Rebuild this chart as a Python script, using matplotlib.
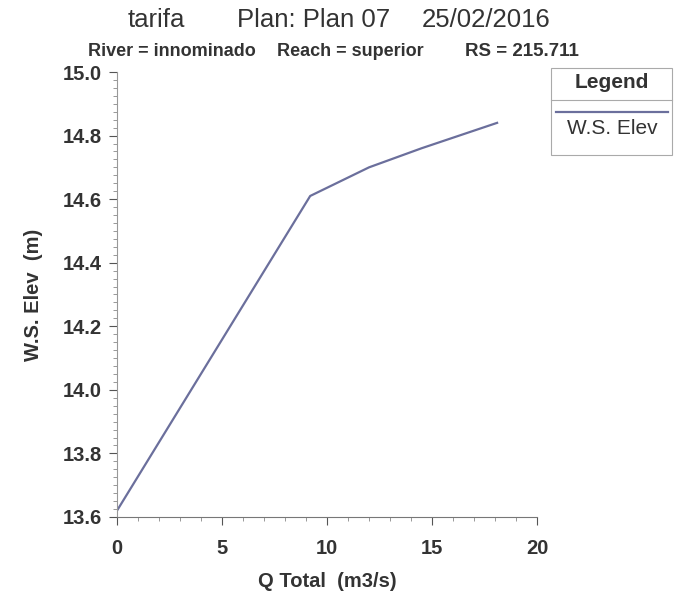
import matplotlib
matplotlib.use("Agg")
import matplotlib.pyplot as plt
from matplotlib.ticker import MultipleLocator
from matplotlib.lines import Line2D
from matplotlib.patches import Rectangle

# rating curve at RS 215.711
q_total = [0.0, 9.2, 12.0, 14.5, 18.1]
ws_elev = [13.62, 14.61, 14.70, 14.76, 14.84]

x_ticks = [0, 5, 10, 15, 20]
y_ticks = [13.6, 13.8, 14.0, 14.2, 14.4, 14.6, 14.8, 15.0]

plt.rcParams['font.family'] = ['Liberation Sans', 'DejaVu Sans']
txt = '#333333'
line_col = '#6b6f9c'

fig = plt.figure(figsize=(6.74, 6.04), dpi=100)
ax = fig.add_axes([117 / 674, 1 - 517 / 604, 420 / 674, 445 / 604])

ax.plot(q_total, ws_elev, color=line_col, lw=1.6)

ax.set_xlim(0, 20)
ax.set_ylim(13.6, 15.0)
ax.set_xticks(x_ticks)
ax.set_yticks(y_ticks)
ax.set_yticklabels([f"{v:.1f}" for v in y_ticks])
ax.xaxis.set_minor_locator(MultipleLocator(1))
ax.yaxis.set_minor_locator(MultipleLocator(0.025))
ax.tick_params(axis='both', which='major', labelsize=14.5, colors='#555555',
               labelcolor=txt, length=6, width=0.8)
ax.tick_params(axis='x', which='major', pad=10)
ax.tick_params(axis='y', which='major', pad=5)
ax.tick_params(axis='both', which='minor', length=3, width=0.6, colors='#888888')
for lab in ax.get_xticklabels() + ax.get_yticklabels():
    lab.set_fontweight('bold')

ax.spines['top'].set_visible(False)
ax.spines['right'].set_visible(False)
ax.spines['left'].set_color('#999999')
ax.spines['bottom'].set_color('#777777')

ax.set_xlabel("Q Total  (m3/s)", fontsize=14.5, fontweight='bold', color=txt, labelpad=10)
ax.set_ylabel("W.S. Elev  (m)", fontsize=14.5, fontweight='bold', color=txt, labelpad=14)

# titles
fig.text(128 / 674, 1 - 20 / 604, "tarifa", fontsize=18.5, color=txt, va='center')
fig.text(237 / 674, 1 - 20 / 604, "Plan: Plan 07", fontsize=18.5, color=txt, va='center')
fig.text(422 / 674, 1 - 20 / 604, "25/02/2016", fontsize=18.5, color=txt, va='center')
fig.text(88 / 674, 1 - 51 / 604, "River = innominado", fontsize=13, fontweight='bold',
         color=txt, va='center')
fig.text(277 / 674, 1 - 51 / 604, "Reach = superior", fontsize=13, fontweight='bold',
         color=txt, va='center')
fig.text(465 / 674, 1 - 51 / 604, "RS = 215.711", fontsize=13.5, fontweight='bold',
         color=txt, va='center')

# legend box
W, H = 674, 604
fig.patches.append(Rectangle((551 / W, 1 - 155 / H), 121 / W, 87 / H,
                             transform=fig.transFigure, fill=False,
                             edgecolor='#aaaaaa', lw=0.8))
fig.lines.append(Line2D([551 / W, 672 / W], [1 - 100 / H, 1 - 100 / H],
                        transform=fig.transFigure, color='#aaaaaa', lw=0.8))
fig.lines.append(Line2D([556 / W, 668 / W], [1 - 112 / H, 1 - 112 / H],
                        transform=fig.transFigure, color=line_col, lw=1.6))
fig.text(612 / W, 1 - 83 / H, "Legend", fontsize=15, fontweight='bold', color=txt,
         ha='center', va='center')
fig.text(612 / W, 1 - 129 / H, "W.S. Elev", fontsize=15, color=txt,
         ha='center', va='center')

plt.savefig('out.png', dpi=100)
